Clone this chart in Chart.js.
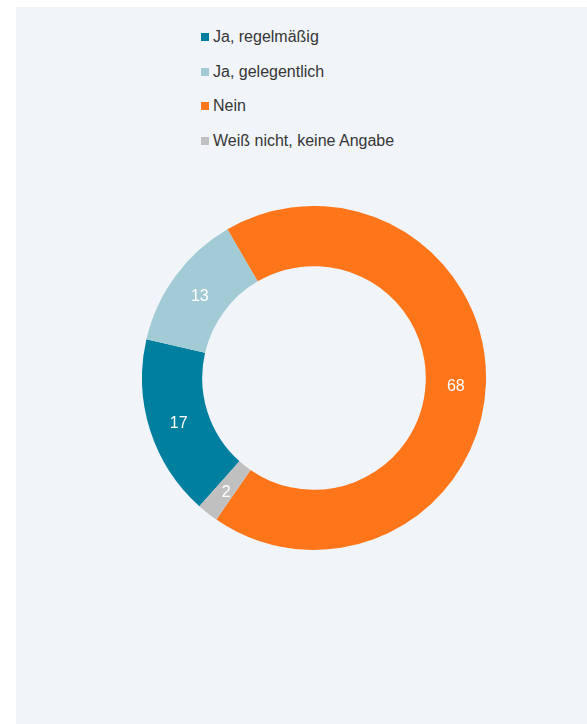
<!DOCTYPE html>
<html>
<head>
<meta charset="utf-8">
<script src="https://cdn.jsdelivr.net/npm/chart.js@4.4.1/dist/chart.umd.min.js"></script>
<style>
  body {
    margin: 0;
    background: #ffffff;
    font-family: "Liberation Sans", Arial, sans-serif;
  }
  .panel {
    position: absolute;
    left: 16px;
    top: 7px;
    width: 571px;
    height: 717px;
    background: #f1f5f9;
  }
  .legend {
    position: absolute;
    left: 185px;
    top: 13px;
  }
  .legend_item {
    height: 34.5px;
    display: flex;
    align-items: center;
    font-size: 16px;
    color: #363636;
  }
  .legend_box {
    width: 8px;
    height: 8px;
    margin-right: 4px;
  }
  .chart_box {
    position: absolute;
    left: 126px;
    top: 199px;
    width: 344px;
    height: 344px;
  }
</style>
</head>
<body>
<div class="panel">
  <div class="legend" id="legend"></div>
  <div class="chart_box"><canvas id="donut"></canvas></div>
</div>
<script>
// data
let categories = ["Ja, regelmäßig", "Ja, gelegentlich", "Nein", "Weiß nicht, keine Angabe"];
let shares = [17, 13, 68, 2];
let sliceColors = ["#007f9f", "#a2cbd5", "#ff761a", "#c0c0c0"];

//! Legend (one item per line)
let legendBox = document.querySelector("#legend");
categories.forEach((name, i) => {
  let item = document.createElement("div");
  item.className = "legend_item";
  let box = document.createElement("span");
  box.className = "legend_box";
  box.style.background = sliceColors[i];
  let text = document.createElement("span");
  text.textContent = name;
  item.appendChild(box);
  item.appendChild(text);
  legendBox.appendChild(item);
});

//! Value labels inside the ring
const sliceLabels = {
  id: "sliceLabels",
  afterDatasetsDraw(chart) {
    const { ctx } = chart;
    const meta = chart.getDatasetMeta(0);
    ctx.save();
    ctx.fillStyle = "#ffffff";
    ctx.font = '16px "Liberation Sans", Arial, sans-serif';
    ctx.textAlign = "center";
    ctx.textBaseline = "middle";
    meta.data.forEach((arc, i) => {
      const pos = arc.tooltipPosition();
      // small nudge down, labels sit a bit low in the original
      ctx.fillText(String(shares[i]), pos.x, pos.y + 3);
    });
    ctx.restore();
  },
};

//! Chart
const ctx = document.getElementById("donut");
new Chart(ctx, {
  type: "doughnut",
  data: {
    labels: categories,
    datasets: [
      {
        data: shares,
        backgroundColor: sliceColors,
        borderWidth: 0,
        hoverOffset: 0,
      },
    ],
  },
  options: {
    responsive: true,
    maintainAspectRatio: false,
    animation: false,
    cutout: "65%",
    rotation: 221.8,
    layout: { padding: 0 },
    plugins: {
      legend: { display: false },
      tooltip: { enabled: false },
    },
  },
  plugins: [sliceLabels],
});
</script>
</body>
</html>
